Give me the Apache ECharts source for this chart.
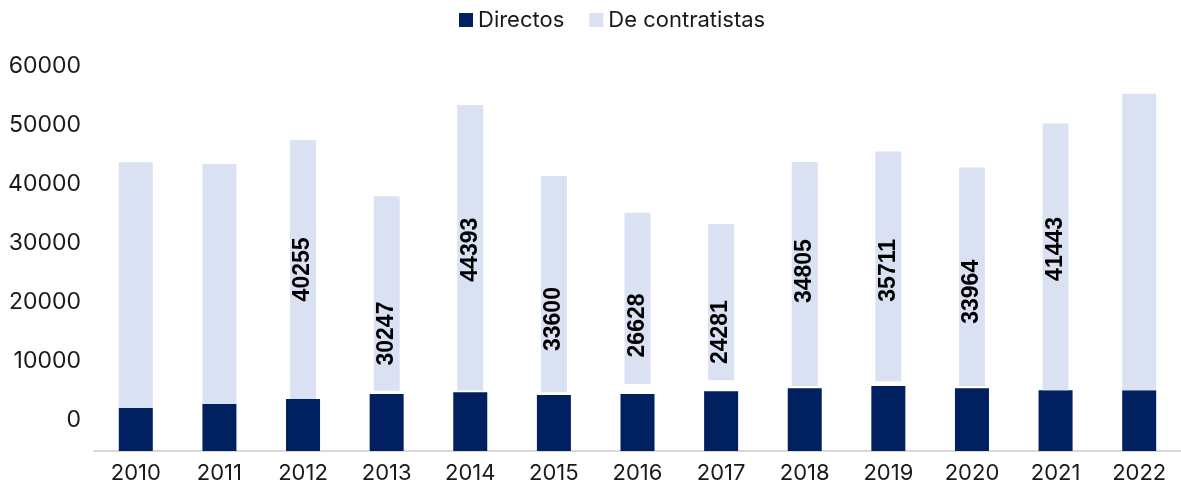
<!DOCTYPE html>
<html>
<head>
<meta charset="utf-8">
<script src="https://cdn.jsdelivr.net/npm/echarts@6/dist/echarts.min.js"></script>
<style>
  html, body { margin: 0; padding: 0; background: #fff; }
  #chart { width: 1181px; height: 487px; }
</style>
</head>
<body>
<div id="chart"></div>
<script>
const years = ['2010', '2011', '2012', '2013', '2014', '2015', '2016', '2017', '2018', '2019', '2020', '2021', '2022']
const directos = [6700, 7300, 8100, 8850, 9150, 8700, 8850, 9300, 9750, 10100, 9750, 9450, 9450]
const contratistas = [38200, 37300, 40255, 30247, 44393, 33600, 26628, 24281, 34805, 35711, 33964, 41443, 46100]
// labelled years: narrower bars that float a little above the Directos bar (start value)
const labeledYears = ['2012', '2013', '2014', '2015', '2016', '2017', '2018', '2019', '2020', '2021']
const labeledBase = [8100, 9350, 9400, 9150, 10400, 11000, 10100, 10850, 10100, 9450]
const yTicks = [0, 10000, 20000, 30000, 40000, 50000, 60000]

// hand placement of the value labels in the source (px, downward from bar centre)
const labelShift = [0, 40, 2, 35, 27, 30, -3, 4, 15, -8]

const font = 'Inter, "Noto Sans", sans-serif'
const textColor = '#1a1a1a'
const darkBlue = '#002060'
const lightBlue = '#dae1f3'

const isLabeled = (y) => labeledYears.includes(y)
const wideData = contratistas.map((v, i) => (isLabeled(years[i]) ? null : v))
const baseData = years.map((y) => (isLabeled(y) ? labeledBase[labeledYears.indexOf(y)] : null))
const narrowData = contratistas.map((v, i) => {
  const y = years[i]
  if (!isLabeled(y)) return null
  // label is rotated 90deg, so its local x runs up the screen
  return { value: v, label: { offset: [-labelShift[labeledYears.indexOf(y)], 0] } }
})

const chart = echarts.init(document.getElementById('chart'))

chart.setOption({
  animation: false,
  legend: {
    data: ['Directos', 'De contratistas'],
    left: 454,
    top: 4,
    icon: 'rect',
    itemWidth: 14,
    itemHeight: 14,
    itemGap: 25,
    textStyle: { fontFamily: font, fontSize: 22, color: textColor },
  },
  grid: [
    { left: 94, width: 1092, top: 65, bottom: 36 },
    // grid used only for the tick labels, which sit higher than the bar scale in the source
    { left: 82, width: 10, top: 66, bottom: 67 },
  ],
  xAxis: [
    {
      type: 'category',
      gridIndex: 0,
      data: years,
      axisLine: { lineStyle: { color: '#d9d9d9', width: 2 } },
      axisTick: { show: false },
      axisLabel: { fontFamily: font, fontSize: 22, color: textColor, margin: 11 },
    },
    { type: 'category', gridIndex: 0, data: years, show: false },
    { type: 'value', gridIndex: 1, show: false },
  ],
  yAxis: [
    {
      type: 'value',
      gridIndex: 0,
      min: 0,
      max: 60000,
      axisLabel: { show: false },
      axisLine: { show: false },
      axisTick: { show: false },
      splitLine: { show: false },
    },
    {
      type: 'value',
      gridIndex: 1,
      min: yTicks[0],
      max: yTicks[yTicks.length - 1],
      interval: 10000,
      axisLine: { show: false },
      axisTick: { show: false },
      splitLine: { show: false },
      axisLabel: {
        fontFamily: font,
        fontSize: 23,
        color: textColor,
        margin: 1,
        formatter: (v) => String(v),
      },
    },
  ],
  series: [
    {
      name: 'Directos',
      type: 'bar',
      xAxisIndex: 0,
      yAxisIndex: 0,
      stack: 'total',
      barWidth: 34,
      itemStyle: { color: darkBlue },
      data: directos,
    },
    {
      name: 'De contratistas',
      type: 'bar',
      xAxisIndex: 0,
      yAxisIndex: 0,
      stack: 'total',
      barWidth: 34,
      itemStyle: { color: lightBlue },
      data: wideData,
    },
    {
      name: 'base',
      type: 'bar',
      xAxisIndex: 1,
      yAxisIndex: 0,
      stack: 'inner',
      barWidth: 26,
      silent: true,
      itemStyle: { color: 'rgba(0,0,0,0)' },
      data: baseData,
    },
    {
      name: 'De contratistas',
      type: 'bar',
      xAxisIndex: 1,
      yAxisIndex: 0,
      stack: 'inner',
      barWidth: 26,
      itemStyle: { color: lightBlue },
      label: {
        show: true,
        position: 'inside',
        rotate: 90,
        fontFamily: 'Arial, "Liberation Sans", sans-serif',
        fontWeight: 'bold',
        fontSize: 23,
        color: '#000',
      },
      data: narrowData,
    },
  ],
})
</script>
</body>
</html>
